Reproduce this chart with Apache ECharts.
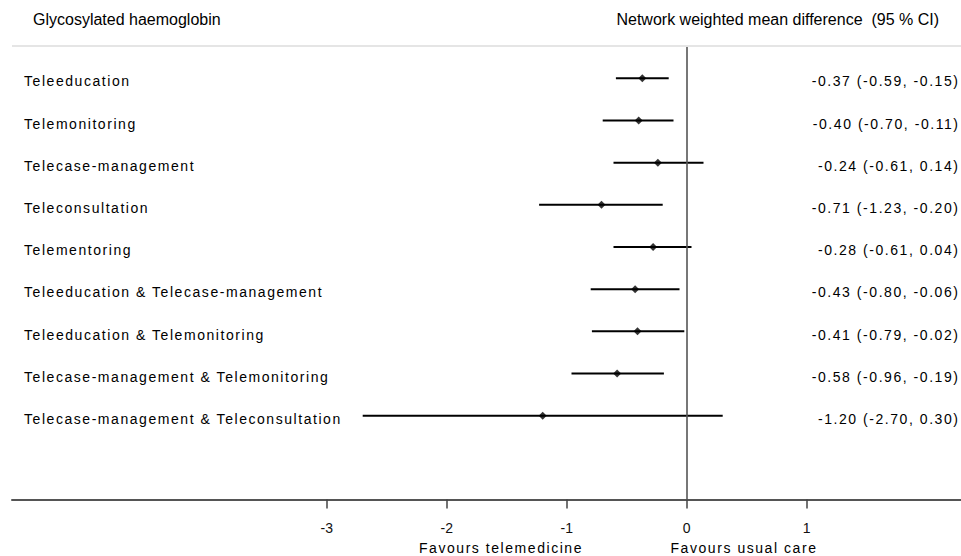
<!DOCTYPE html>
<html><head><meta charset="utf-8">
<script src="https://cdn.jsdelivr.net/npm/echarts@6/dist/echarts.min.js"></script>
<style>
html,body{margin:0;padding:0;background:#fff}
#c{width:961px;height:556px}
#c text{white-space:pre}
</style>
</head><body><div id="c"></div>
<script>
// ---- data ----
const categories = [
  'Teleeducation',
  'Telemonitoring',
  'Telecase-management',
  'Teleconsultation',
  'Telementoring',
  'Teleeducation & Telecase-management',
  'Teleeducation & Telemonitoring',
  'Telecase-management & Telemonitoring',
  'Telecase-management & Teleconsultation'
];
const estimates = [-0.37, -0.40, -0.24, -0.71, -0.28, -0.43, -0.41, -0.58, -1.20];
const lower     = [-0.59, -0.70, -0.61, -1.23, -0.61, -0.80, -0.79, -0.96, -2.70];
const upper     = [-0.15, -0.11,  0.14, -0.20,  0.04, -0.06, -0.02, -0.19,  0.30];
const xTicks = [-3, -2, -1, 0, 1];
const titleText = 'Glycosylated haemoglobin';
const headerText = 'Network weighted mean difference  (95 % CI)';
const favourLeft = 'Favours telemedicine';
const favourRight = 'Favours usual care';

const fmt = v => v.toFixed(2);
const valueLabels = estimates.map((e, i) => `${fmt(e)} (${fmt(lower[i])}, ${fmt(upper[i])})`);

const FONT = 'Liberation Sans';
const chart = echarts.init(document.getElementById('c'), null, {renderer: 'svg'});

const option = {
  animation: false,
  backgroundColor: '#fff',
  grid: {left: 12, right: 0, top: 47, bottom: 56.5, containLabel: false},
  xAxis: {
    type: 'value', min: -5.6225, max: 2.2858,
    axisLine: {show: true, onZero: false, lineStyle: {color: '#555', width: 2}},
    axisTick: {show: true, length: 9, customValues: xTicks, lineStyle: {color: '#444', width: 1.5}},
    axisLabel: {customValues: xTicks, margin: 21, fontSize: 14, fontFamily: FONT, color: '#111'},
    splitLine: {show: false}
  },
  yAxis: {type: 'value', inverse: true, min: -0.742, max: 9.986, show: false},
  series: [
    {
      type: 'custom',
      silent: true,
      data: categories.map((c, i) => [lower[i], upper[i], i]),
      encode: {x: [0, 1], y: 2},
      renderItem: (params, api) => {
        const i = api.value(2);
        const cs = params.coordSys;
        const p1 = api.coord([api.value(0), i]);
        const p2 = api.coord([api.value(1), i]);
        return {
          type: 'group',
          children: [
            {type: 'line', shape: {x1: p1[0], y1: p1[1], x2: p2[0], y2: p2[1]},
             style: {stroke: '#000', lineWidth: 2}},
            {type: 'text', style: {x: cs.x + 12, y: p1[1] + 3.2, text: categories[i],
              fontSize: 14, fontFamily: FONT, fill: '#000', textAlign: 'left', textVerticalAlign: 'middle'}},
            {type: 'text', style: {x: cs.x + cs.width - 1.5, y: p1[1] + 3.2, text: valueLabels[i],
              fontSize: 14, fontFamily: FONT, fill: '#000', textAlign: 'right', textVerticalAlign: 'middle'}}
          ]
        };
      }
    },
    {
      type: 'scatter',
      silent: true,
      data: estimates.map((e, i) => [e, i]),
      symbol: 'diamond',
      symbolSize: 8,
      itemStyle: {color: '#000'},
      z: 5,
      markLine: {
        silent: true, symbol: 'none', label: {show: false},
        lineStyle: {color: '#555', width: 1.6, type: 'solid'},
        data: [{xAxis: 0}]
      }
    }
  ],
  graphic: [
    {type: 'line', shape: {x1: 12, y1: 46, x2: 961, y2: 46}, style: {stroke: '#dcdcdc', lineWidth: 1.6}},
    {type: 'text', x: 33, y: 19.5, style: {text: titleText, fontSize: 16, fontFamily: FONT, fill: '#000',
      textAlign: 'left', textVerticalAlign: 'middle'}},
    {type: 'text', x: 939, y: 19.5, style: {text: headerText, fontSize: 16, fontFamily: FONT, fill: '#000',
      textAlign: 'right', textVerticalAlign: 'middle'}},
    {type: 'text', x: 501, y: 547.5, style: {text: favourLeft, fontSize: 14, fontFamily: FONT, fill: '#000',
      textAlign: 'center', textVerticalAlign: 'middle'}},
    {type: 'text', x: 744, y: 547.5, style: {text: favourRight, fontSize: 14, fontFamily: FONT, fill: '#000',
      textAlign: 'center', textVerticalAlign: 'middle'}}
  ]
};
chart.setOption(option);

const spaced = new Set([...categories, ...valueLabels, favourLeft, favourRight]);
function applySpacing() {
  document.querySelectorAll('#c text').forEach(t => {
    if (spaced.has(t.textContent)) t.setAttribute('letter-spacing', '1.55');
  });
}
applySpacing();
chart.on('finished', applySpacing);
</script>
</body></html>
